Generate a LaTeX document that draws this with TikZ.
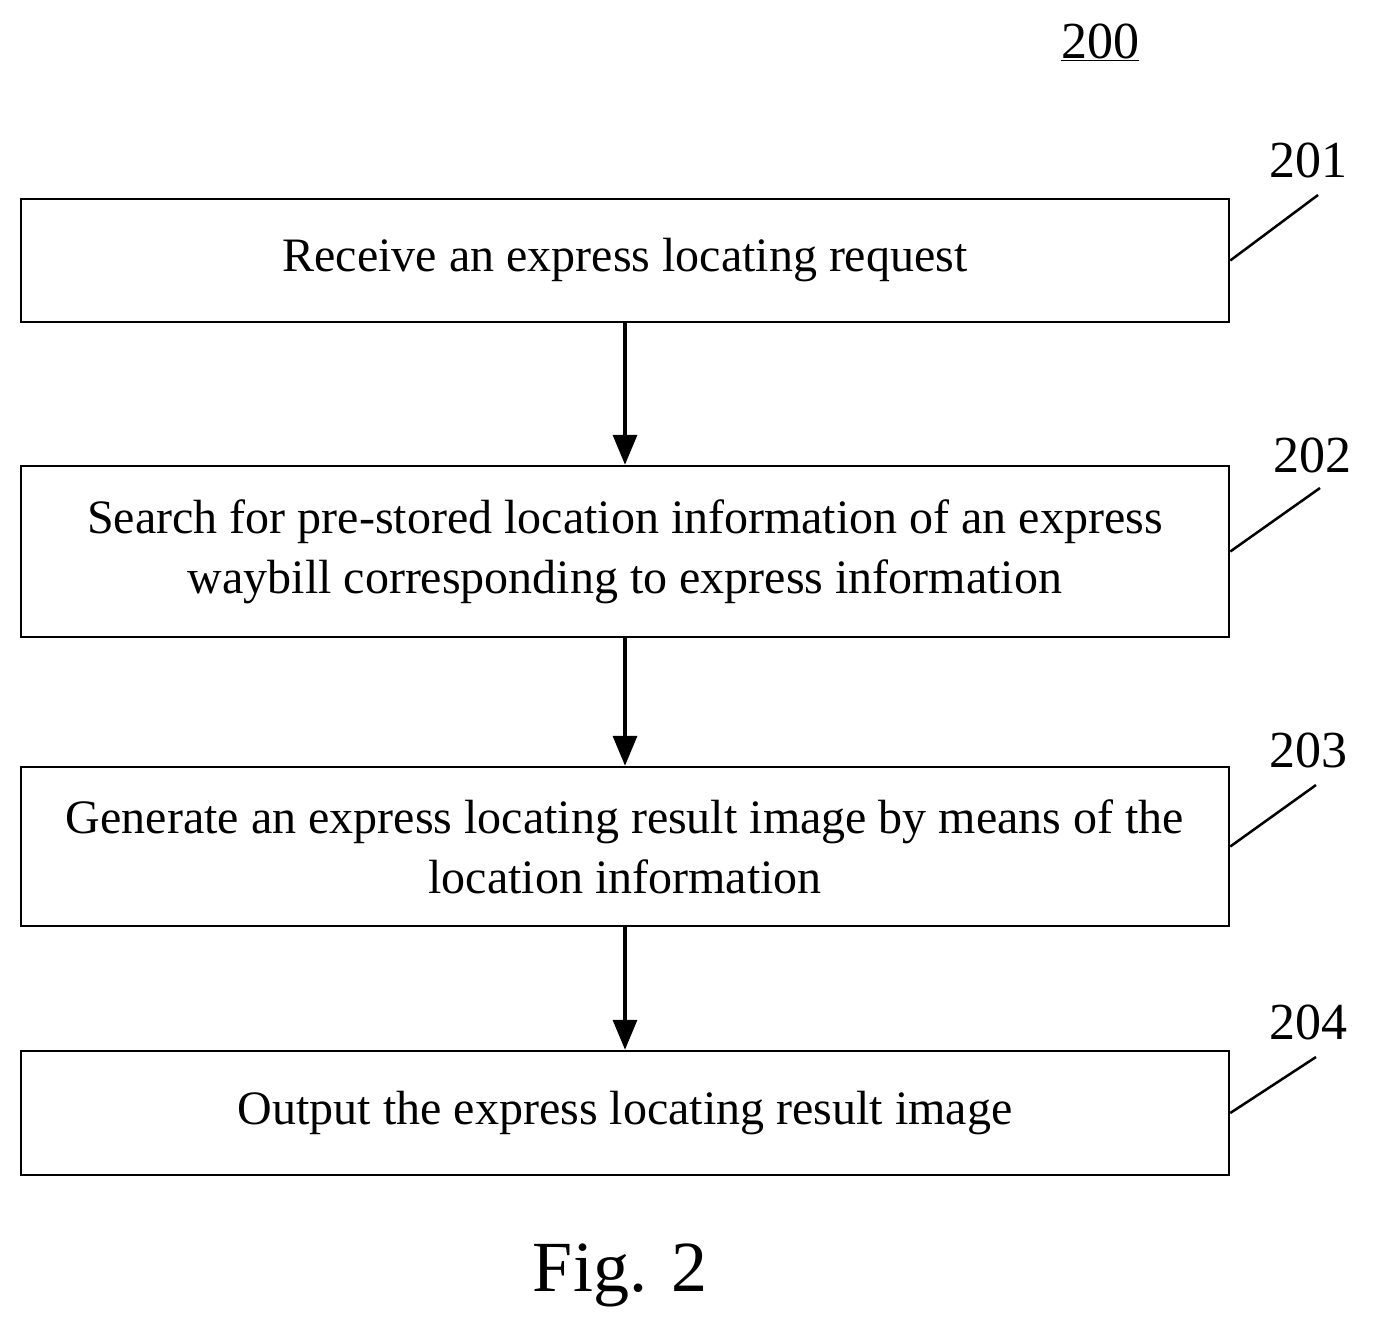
\documentclass[tikz,border=0pt]{standalone}
\usepackage{fontspec}
\setmainfont{Liberation Serif}
\usetikzlibrary{arrows.meta}
\begin{document}
\begin{tikzpicture}[x=1pt,y=-1pt,
  box/.style={draw,line width=2.5pt,minimum width=1208pt,align=center,font=\fontsize{48}{60}\selectfont,inner sep=0pt},
  lbl/.style={font=\fontsize{52}{60}\selectfont},
  arr/.style={line width=3.5pt,-{Triangle[length=30pt,width=24pt]}},
  lead/.style={line width=2.5pt}]
\useasboundingbox (0,0) rectangle (1375,1338);
\node[box,minimum height=123pt] (b1) at (625,260.5) {Receive an express locating request};
\node[box,minimum height=171pt] (b2) at (625,551.5) {Search for pre-stored location information of an express\\waybill corresponding to express information};
\node[box,minimum height=159pt] (b3) at (625,846.5) {Generate an express locating result image by means of the\\location information};
\node[box,minimum height=124pt] (b4) at (625,1113) {Output the express locating result image};
\draw[arr] (b1) -- (b2);
\draw[arr] (b2) -- (b3);
\draw[arr] (b3) -- (b4);
\node[lbl] (l1) at (1308,160) {201};
\node[lbl] (l2) at (1312,455) {202};
\node[lbl] (l3) at (1308,750) {203};
\node[lbl] (l4) at (1308,1022) {204};
\coordinate (c1) at (1318,195); \draw[lead] (b1.east) -- (c1);
\coordinate (c2) at (1320,488); \draw[lead] (b2.east) -- (c2);
\coordinate (c3) at (1316,785); \draw[lead] (b3.east) -- (c3);
\coordinate (c4) at (1316,1057); \draw[lead] (b4.east) -- (c4);
\node[lbl] (t200) at (1100,42) {\underline{200}};
\node[font=\fontsize{72}{80}\selectfont] (fig) at (620,1275) {Fig. 2};
\end{tikzpicture}
\end{document}
